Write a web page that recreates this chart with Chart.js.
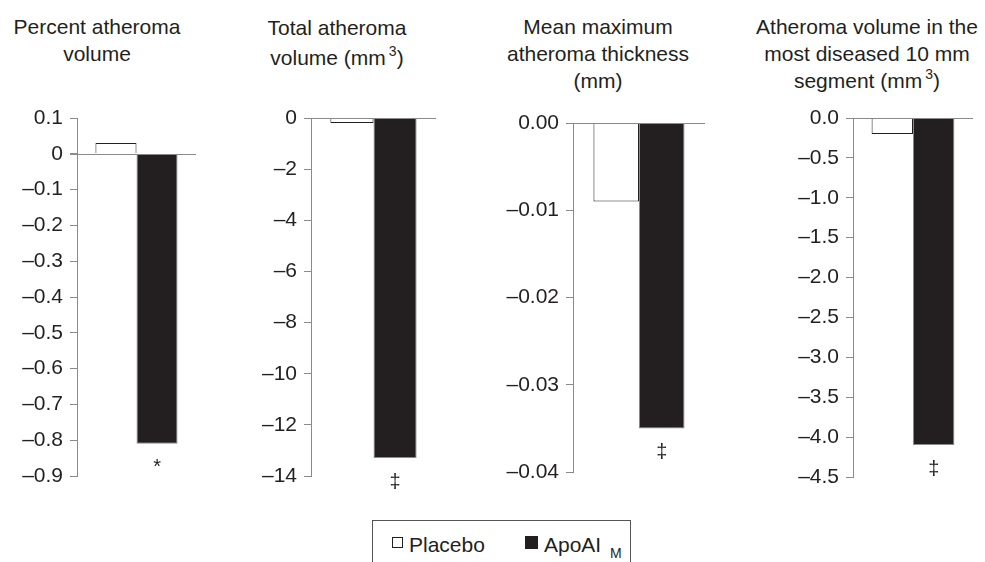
<!DOCTYPE html>
<html>
<head>
<meta charset="utf-8">
<script src="https://cdn.jsdelivr.net/npm/chart.js@4.4.1/dist/chart.umd.min.js"></script>
<style>
  body { margin: 0; background: #fff; width: 985px; height: 562px; overflow: hidden; position: relative;
         font-family: "Liberation Sans", Arial, sans-serif; color: #231f20; }
  .title { position: absolute; top: 13px; font-size: 21px; line-height: 27px; text-align: center;
           white-space: nowrap; transform: translateX(-50%); }
  .title sup { font-size: 14px; vertical-align: baseline; position: relative; top: -9px; margin-left: 3px; }
  canvas { position: absolute; top: 100px; }
  .lg-box { position: absolute; left: 372px; top: 520px; width: 257px; height: 60px; border: 1px solid #555; }
  .lg { position: absolute; font-size: 21px; line-height: 21px; white-space: nowrap; }
  .sq { position: absolute; width: 9px; height: 9px; border: 1px solid #231f20; }
</style>
</head>
<body>
<div id="titles"></div>
<canvas id="c0" width="240" height="400" style="left:0px"></canvas>
<canvas id="c1" width="245" height="400" style="left:240px"></canvas>
<canvas id="c2" width="245" height="400" style="left:485px"></canvas>
<canvas id="c3" width="255" height="400" style="left:730px"></canvas>

<div class="lg-box"></div>
<div class="sq" style="left:392px; top:537px; background:#fff"></div>
<div class="lg" style="left:409px; top:534px">Placebo</div>
<div class="sq" style="left:525px; top:536px; width:11px; height:11px; background:#231f20"></div>
<div class="lg" style="left:544px; top:534px">ApoAI</div>
<div class="lg" style="left:610px; top:543px; font-size:14px">M</div>

<script>
// one entry per panel
const panelTitles = [
  ['Percent atheroma', 'volume'],
  ['Total atheroma', 'volume (mm<sup>3</sup>)'],
  ['Mean maximum', 'atheroma thickness', '(mm)'],
  ['Atheroma volume in the', 'most diseased 10 mm', 'segment (mm<sup>3</sup>)']
];
const seriesNames = ['Placebo', 'ApoAI M'];
const placeboValues = [0.03, -0.2, -0.009, -0.2];
const apoValues = [-0.81, -13.3, -0.035, -4.1];
const markers = ['*', '\u2021', '\u2021', '\u2021'];

const axisMin = [-0.9, -14, -0.04, -4.5];
const axisMax = [0.1, 0, 0, 0];
const axisStep = [0.1, 2, 0.01, 0.5];

// tick labels, top to bottom
const tickLabels = [
  ['0.1', '0', '\u20130.1', '\u20130.2', '\u20130.3', '\u20130.4', '\u20130.5', '\u20130.6', '\u20130.7', '\u20130.8', '\u20130.9'],
  ['0', '\u20132', '\u20134', '\u20136', '\u20138', '\u201310', '\u201312', '\u201314'],
  ['0.00', '\u20130.01', '\u20130.02', '\u20130.03', '\u20130.04'],
  ['0.0', '\u20130.5', '\u20131.0', '\u20131.5', '\u20132.0', '\u20132.5', '\u20133.0', '\u20133.5', '\u20134.0', '\u20134.5']
];

// layout of each panel inside its canvas
const titleCenters = [97, 337, 598, 867];
const titleLineHeights = [27, 30, 27, 27];
const yAxisWidths = [77, 71, 88, 123];
const paddings = [
  { top: 18, bottom: 24, left: 0, right: 44 },
  { top: 18, bottom: 24, left: 0, right: 49 },
  { top: 23, bottom: 28, left: 0, right: 25 },
  { top: 18, bottom: 23, left: 0, right: 12 }
];

const ink = '#231f20';
const axisGrey = '#8a8a8a';
const font = { family: '"Liberation Sans", Arial, sans-serif', size: 21 };

const titlesEl = document.getElementById('titles');
panelTitles.forEach((lines, i) => {
  const d = document.createElement('div');
  d.className = 'title';
  d.style.left = titleCenters[i] + 'px';
  d.style.lineHeight = titleLineHeights[i] + 'px';
  d.innerHTML = lines.join('<br>');
  titlesEl.appendChild(d);
});

// zero line that runs across the panel, and the significance mark under the ApoAI bar
const panelExtras = {
  id: 'panelExtras',
  afterDatasetsDraw(chart, args, opts) {
    const ctx = chart.ctx;
    const area = chart.chartArea;
    const y0 = Math.round(chart.scales.y.getPixelForValue(0)) + 0.5;
    ctx.save();
    ctx.strokeStyle = axisGrey;
    ctx.lineWidth = 1;
    ctx.beginPath();
    ctx.moveTo(area.left - 7, y0);
    ctx.lineTo(area.right, y0);
    ctx.stroke();

    const bar = chart.getDatasetMeta(1).data[0];
    ctx.fillStyle = ink;
    ctx.font = '20px ' + font.family;
    ctx.textAlign = 'center';
    ctx.textBaseline = 'top';
    ctx.fillText(opts.mark, bar.x, bar.y + 14);
    ctx.restore();
  }
};

for (let i = 0; i < 4; i++) {
  const labels = tickLabels[i];
  new Chart(document.getElementById('c' + i), {
    type: 'bar',
    data: {
      labels: [''],
      datasets: [
        {
          label: seriesNames[0],
          data: [placeboValues[i]],
          backgroundColor: '#ffffff',
          borderColor: ink,
          borderWidth: 1
        },
        {
          label: seriesNames[1],
          data: [apoValues[i]],
          backgroundColor: ink,
          borderColor: axisGrey,
          borderWidth: 1
        }
      ]
    },
    options: {
      responsive: false,
      animation: false,
      layout: { padding: paddings[i] },
      datasets: { bar: { categoryPercentage: 0.69, barPercentage: 1 } },
      plugins: {
        legend: { display: false },
        tooltip: { enabled: false },
        panelExtras: { mark: markers[i] }
      },
      scales: {
        x: { display: false },
        y: {
          min: axisMin[i],
          max: axisMax[i],
          ticks: {
            stepSize: axisStep[i],
            color: ink,
            font: font,
            padding: 7,
            callback: (value, index, ticks) => labels[ticks.length - 1 - index]
          },
          grid: { drawOnChartArea: false, tickLength: 7, color: axisGrey },
          border: { color: axisGrey, width: 1 },
          afterFit(scale) {
            scale.width = yAxisWidths[i];
            scale.paddingTop = 0;
            scale.paddingBottom = 0;
          }
        }
      }
    },
    plugins: [panelExtras]
  });
}
</script>
</body>
</html>
